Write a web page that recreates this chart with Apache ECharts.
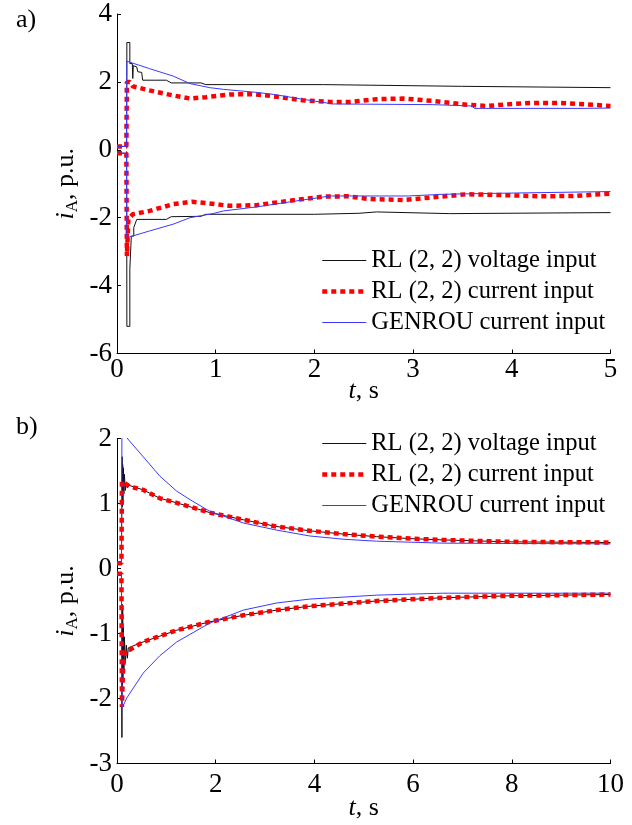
<!DOCTYPE html>
<html>
<head>
<meta charset="utf-8">
<script src="https://cdn.jsdelivr.net/npm/echarts@6/dist/echarts.min.js"></script>
<style>
  html, body { margin: 0; padding: 0; background: #fff; }
  #chart { width: 632px; height: 825px; }
</style>
</head>
<body>
<div id="chart"></div>
<script>
  // ---- a) 0..5 s ----
  const aVoltUp = [[0, 0.1], [0.098, 0.1], [0.1, 3.16], [0.13, 3.16], [0.13, 2.54], [0.155, 2.54], [0.16, 2.1], [0.165, 2.1], [0.165, 2.48], [0.2, 2.44], [0.21, 2.3], [0.25, 2.28], [0.26, 2.05], [0.5, 2.05], [0.55, 1.97], [0.85, 1.97], [0.9, 1.92], [2.09, 1.92], [2.1, 1.87], [3.49, 1.87], [3.5, 1.83], [5, 1.83]];
  const aVoltLow = [[0, -0.1], [0.098, -0.1], [0.1, -5.2], [0.13, -5.2], [0.13, -3.52], [0.145, -3.52], [0.145, -2.54], [0.17, -2.54], [0.17, -2.29], [0.19, -2.29], [0.2, -2.05], [0.5, -2.05], [0.55, -1.97], [0.85, -1.96], [0.9, -1.9], [2.0, -1.9], [2.02, -1.87], [2.45, -1.87], [2.46, -1.83], [2.63, -1.83], [2.64, -1.87], [3.37, -1.88], [3.38, -1.85], [5, -1.85]];
  const aCurUp = [[0, 0.1], [0.095, 0.1], [0.1, 2.0], [0.13, 2.0], [0.16, 1.87], [0.33, 1.75], [0.57, 1.6], [0.74, 1.51], [0.9, 1.55], [1.14, 1.63], [1.35, 1.64], [1.52, 1.6], [1.88, 1.46], [2.16, 1.41], [2.36, 1.41], [2.63, 1.49], [2.9, 1.51], [3.2, 1.44], [3.54, 1.33], [3.75, 1.29], [3.91, 1.33], [4.18, 1.38], [4.49, 1.38], [4.76, 1.34], [5, 1.29]];
  const aCurLow = [[0, -0.1], [0.095, -0.1], [0.1, -3.13], [0.11, -3.13], [0.115, -2.04], [0.16, -1.9], [0.33, -1.8], [0.57, -1.6], [0.76, -1.53], [0.9, -1.57], [1.14, -1.65], [1.42, -1.63], [1.75, -1.5], [2.09, -1.38], [2.33, -1.37], [2.56, -1.45], [2.9, -1.48], [3.2, -1.4], [3.54, -1.31], [3.88, -1.33], [4.29, -1.37], [4.62, -1.36], [5, -1.29]];
  const aGenUp = [[0, 0.1], [0.095, 0.1], [0.1, 2.61], [0.33, 2.39], [0.57, 2.17], [0.74, 1.95], [0.94, 1.83], [1.08, 1.78], [1.42, 1.69], [1.59, 1.63], [1.86, 1.5], [2.19, 1.35], [3.2, 1.33], [3.22, 1.29], [3.6, 1.29], [3.62, 1.22], [4.75, 1.22], [4.77, 1.24], [5, 1.23]];
  const aGenLow = [[0, -0.1], [0.095, -0.1], [0.1, -2.59], [0.33, -2.39], [0.57, -2.19], [0.74, -2.0], [0.97, -1.88], [1.08, -1.8], [1.42, -1.68], [1.76, -1.53], [2.16, -1.36], [2.95, -1.36], [2.97, -1.31], [3.3, -1.31], [3.32, -1.28], [3.88, -1.28], [3.9, -1.24], [5, -1.23]];

  // ---- b) 0..10 s ----
  const bVoltUp = [[0, 0.08], [0.09, 0.08], [0.1, 1.3], [0.105, 1.72], [0.11, 0.95], [0.115, 1.6], [0.12, 1.05], [0.13, 1.55], [0.14, 1.15], [0.15, 1.45], [0.17, 1.2], [0.19, 1.32], [0.21, 1.24], [0.24, 1.28], [0.53, 1.21], [0.87, 1.08], [1.21, 1.01], [1.88, 0.86], [2.56, 0.75], [3.24, 0.645], [3.91, 0.58], [4.58, 0.53], [5.26, 0.49], [5.94, 0.46], [6.6, 0.44], [7.96, 0.41], [10, 0.4]];
  const bVoltLow = [[0, -0.08], [0.09, -0.08], [0.1, -2.6], [0.105, -0.55], [0.11, -1.8], [0.115, -0.6], [0.12, -1.75], [0.13, -0.9], [0.14, -1.55], [0.15, -1.05], [0.17, -1.45], [0.19, -1.18], [0.21, -1.38], [0.23, -1.22], [0.26, -1.25], [0.53, -1.13], [0.87, -1.04], [1.21, -0.95], [1.88, -0.82], [2.56, -0.72], [3.24, -0.64], [3.91, -0.58], [5.26, -0.5], [6.6, -0.45], [7.96, -0.42], [10, -0.4]];
  const bCurUp = [[0, 0.08], [0.09, 0.08], [0.1, 1.34], [0.13, 1.33], [0.26, 1.26], [0.53, 1.21], [0.87, 1.08], [1.21, 1.01], [1.88, 0.86], [2.56, 0.75], [3.24, 0.645], [3.91, 0.58], [4.58, 0.53], [5.26, 0.49], [5.94, 0.46], [6.6, 0.44], [7.96, 0.41], [10, 0.4]];
  const bCurLow = [[0, -0.08], [0.09, -0.08], [0.1, -2.13], [0.12, -1.6], [0.15, -1.3], [0.2, -1.25], [0.26, -1.25], [0.53, -1.13], [0.87, -1.04], [1.21, -0.95], [1.88, -0.82], [2.56, -0.72], [3.24, -0.64], [3.91, -0.58], [5.26, -0.5], [6.6, -0.45], [7.96, -0.42], [10, -0.4]];
  const bGenUp = [[0, 0.08], [0.09, 0.08], [0.1, 2.13], [0.2, 2.01], [0.53, 1.72], [0.87, 1.42], [1.21, 1.19], [1.5, 1.05], [1.88, 0.88], [2.56, 0.7], [3.24, 0.59], [3.91, 0.5], [4.6, 0.45], [5.26, 0.42], [6.6, 0.39], [8, 0.385], [10, 0.38]];
  const bGenLow = [[0, -0.08], [0.09, -0.08], [0.1, -2.15], [0.2, -1.99], [0.53, -1.61], [0.87, -1.34], [1.21, -1.13], [1.88, -0.84], [2.56, -0.64], [3.24, -0.53], [3.91, -0.47], [5.26, -0.41], [6.6, -0.38], [10, -0.38]];

  const names = ['RL (2, 2) voltage input', 'RL (2, 2) current input', 'GENROU current input'];
  const FONT = 'Liberation Serif';

  const styles = [
    { color: '#111', width: 1, type: 'solid' },
    { color: '#ff0000', width: 4.5, type: [5, 4] },
    { color: '#3a3aff', width: 1, type: 'solid' },
  ];

  const mkSeries = (idx, data, gridIdx) => ({
    name: names[idx],
    type: 'line',
    data,
    xAxisIndex: gridIdx,
    yAxisIndex: gridIdx,
    showSymbol: false,
    symbol: 'none',
    lineStyle: { color: styles[idx].color, width: styles[idx].width, type: styles[idx].type, cap: 'butt' },
    itemStyle: { color: styles[idx].color },
    emphasis: { disabled: true },
  });

  const xAxisBase = (max, interval, gap, margin) => ({
    type: 'value',
    min: 0,
    max,
    interval,
    name: '{t|t}{n|, s}',
    nameLocation: 'middle',
    nameGap: gap,
    nameMoveOverlap: false,
    nameTextStyle: {
      rich: {
        t: { fontFamily: FONT, fontSize: 26, fontStyle: 'italic', color: '#000' },
        n: { fontFamily: FONT, fontSize: 26, color: '#000' },
      },
    },
    axisLine: { onZero: false, lineStyle: { color: '#000', width: 1 } },
    axisTick: { inside: true, length: 4, lineStyle: { color: '#000' } },
    axisLabel: { fontFamily: FONT, fontSize: 27, color: '#000', margin },
    splitLine: { show: false },
  });

  const yAxisBase = (min, max, interval) => ({
    type: 'value',
    min,
    max,
    interval,
    name: '{i|i}{s|A}{n|, p.u.}',
    nameLocation: 'middle',
    nameRotate: 90,
    nameGap: 36,
    nameMoveOverlap: false,
    nameTextStyle: {
      rich: {
        i: { fontFamily: FONT, fontSize: 26, fontStyle: 'italic', color: '#000', lineHeight: 30 },
        s: { fontFamily: FONT, fontSize: 17, color: '#000', lineHeight: 12, verticalAlign: 'bottom' },
        n: { fontFamily: FONT, fontSize: 26, color: '#000', lineHeight: 30 },
      },
    },
    axisLine: { show: true, onZero: false, lineStyle: { color: '#000', width: 1 } },
    axisTick: { show: true, inside: true, length: 4, lineStyle: { color: '#000' } },
    axisLabel: { fontFamily: FONT, fontSize: 27, color: '#000', margin: 5 },
    splitLine: { show: false },
  });

  const legendBase = (top) => ({
    top,
    left: 320,
    padding: 0,
    orient: 'vertical',
    data: names.map((name, i) => ({
      name,
      lineStyle: { width: styles[i].width, type: styles[i].type, color: styles[i].color },
    })),
    selectedMode: false,
    itemWidth: 44,
    itemHeight: 12,
    itemGap: 6,
    itemStyle: { opacity: 0 },
    textStyle: { fontFamily: FONT, fontSize: 24.5, color: '#000', lineHeight: 25 },
  });

  const chart = echarts.init(document.getElementById('chart'));
  chart.setOption({
    animation: false,
    backgroundColor: '#fff',
    title: [
      { text: 'a)', left: 11, top: 2, textStyle: { fontFamily: FONT, fontSize: 26, fontWeight: 'normal', color: '#000' } },
      { text: 'b)', left: 11, top: 409, textStyle: { fontFamily: FONT, fontSize: 26, fontWeight: 'normal', color: '#000' } },
    ],
    legend: [legendBase(248), legendBase(431)],
    grid: [
      { left: 117, top: 14, width: 493.5, height: 339.5 },
      { left: 117, top: 438.5, width: 493.5, height: 325 },
    ],
    xAxis: [
      Object.assign(xAxisBase(5, 1, 25, 3), { gridIndex: 0 }),
      Object.assign(xAxisBase(10, 2, 32, 8), { gridIndex: 1 }),
    ],
    yAxis: [
      Object.assign(yAxisBase(-6, 4, 2), { gridIndex: 0 }),
      Object.assign(yAxisBase(-3, 2, 1), { gridIndex: 1 }),
    ],
    series: [
      mkSeries(0, aVoltUp, 0),
      mkSeries(0, aVoltLow, 0),
      mkSeries(1, aCurUp, 0),
      mkSeries(1, aCurLow, 0),
      mkSeries(2, aGenUp, 0),
      mkSeries(2, aGenLow, 0),
      mkSeries(0, bVoltUp, 1),
      mkSeries(0, bVoltLow, 1),
      mkSeries(1, bCurUp, 1),
      mkSeries(1, bCurLow, 1),
      mkSeries(2, bGenUp, 1),
      mkSeries(2, bGenLow, 1),
    ],
  });
</script>
</body>
</html>
